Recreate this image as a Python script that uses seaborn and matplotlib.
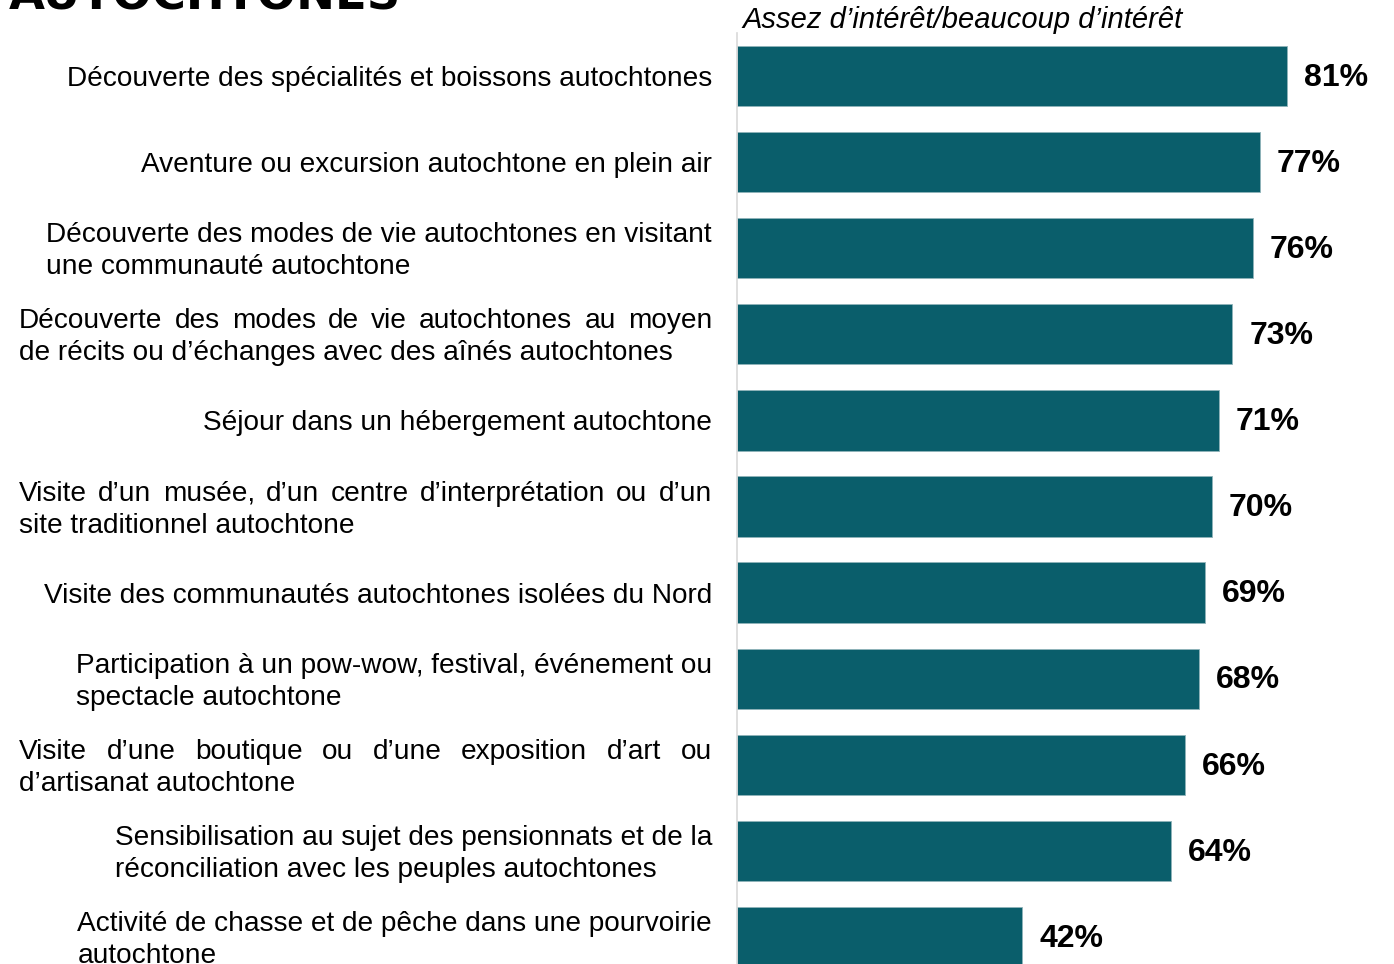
import seaborn as sns
import matplotlib.pyplot as plt
import pandas as pd

activities = [
    "Découverte des spécialités et boissons autochtones",
    "Aventure ou excursion autochtone en plein air",
    "Découverte des modes de vie autochtones en visitant\nune communauté autochtone",
    "Découverte des modes de vie autochtones au moyen\nde récits ou d’échanges avec des aînés autochtones",
    "Séjour dans un hébergement autochtone",
    "Visite d’un musée, d’un centre d’interprétation ou d’un\nsite traditionnel autochtone",
    "Visite des communautés autochtones isolées du Nord",
    "Participation à un pow-wow, festival, événement ou\nspectacle autochtone",
    "Visite d’une boutique ou d’une exposition d’art ou\nd’artisanat autochtone",
    "Sensibilisation au sujet des pensionnats et de la\nréconciliation avec les peuples autochtones",
    "Activité de chasse et de pêche dans une pourvoirie\nautochtone",
]
interest = [81, 77, 76, 73, 71, 70, 69, 68, 66, 64, 42]
justified = [3, 5, 8]

subtitle = "Assez d’intérêt/beaucoup d’intérêt"
title = "AUTOCHTONES"

df = pd.DataFrame({"activite": activities, "interet": interest})

W, H = 1394, 964
sns.set_style("white")
plt.rcParams['font.family'] = ['Liberation Sans', 'DejaVu Sans']
plt.rcParams['text.color'] = 'black'

fig = plt.figure(figsize=(W / 100, H / 100), dpi=100)
ax = fig.add_axes([737 / W, 0, 1 - 737 / W, (H - 33) / H])

sns.barplot(data=df, x="interet", y="activite", orient="h", color="#0A5E6B",
            saturation=1, width=0.7, edgecolor="#8FB3B9", linewidth=0.6, ax=ax)

ax.set_xlabel("")
ax.set_ylabel("")
ax.set_xticks([])
ax.set_yticks(range(len(activities)))
ax.set_yticklabels([])
ax.tick_params(axis="y", which="major", length=0)
ax.set_yticks([i - 0.5 for i in range(len(activities) + 1)], minor=True)
ax.tick_params(axis="y", which="minor", length=9, color="#D9D9D9", width=1.2)
ax.set_xlim(0, 96.8)
ax.set_ylim(10 + (964 - 937) / 86, -0.5)
for s in ["top", "right", "bottom"]:
    ax.spines[s].set_visible(False)
ax.spines["left"].set_color("#D9D9D9")
ax.spines["left"].set_linewidth(1.2)

# value labels
for i, v in enumerate(interest):
    ax.text(v + 17 / 6.79, i + 0.02, f"{v}%", ha="left", va="center",
            fontsize=23, fontweight="bold", color="black")

# category labels
fig.canvas.draw()
renderer = fig.canvas.get_renderer()
label_fs = 20.2
right_px = 712
left_px = 19
line_gap = 32


def ypix(i):
    return ax.transData.transform((0, i))[1]


def text_width(s):
    t = fig.text(0, 0, s, fontsize=label_fs)
    w = t.get_window_extent(renderer).width
    t.remove()
    return w


for i, lab in enumerate(activities):
    yc = ypix(i)
    lines = lab.split("\n")
    y0 = yc + line_gap * (len(lines) - 1) / 2
    if i in justified:
        for k, line in enumerate(lines):
            yy = y0 - k * line_gap
            words = line.split(" ")
            if k < len(lines) - 1:
                widths = [text_width(w) for w in words]
                gap = (right_px - left_px - sum(widths)) / (len(words) - 1)
                x = left_px
                for w, wd in zip(words, widths):
                    fig.text(x / W, yy / H, w, fontsize=label_fs, ha="left",
                             va="center_baseline")
                    x += wd + gap
            else:
                fig.text(left_px / W, yy / H, line, fontsize=label_fs, ha="left",
                         va="center_baseline")
    else:
        # right-aligned block, lines left-aligned inside
        block_w = max(text_width(ln) for ln in lines)
        for k, line in enumerate(lines):
            yy = y0 - k * line_gap
            fig.text((right_px - block_w) / W, yy / H, line, fontsize=label_fs,
                     ha="left", va="center_baseline")

fig.text(742 / W, 1 - 20 / H, subtitle, fontsize=21, style="italic",
         ha="left", va="center")
fig.text(9 / W, 1 - 10 / H, title, fontsize=33.5, fontweight="heavy",
         ha="left", va="baseline", family="DejaVu Sans")

fig.savefig("out.png", dpi=100)
